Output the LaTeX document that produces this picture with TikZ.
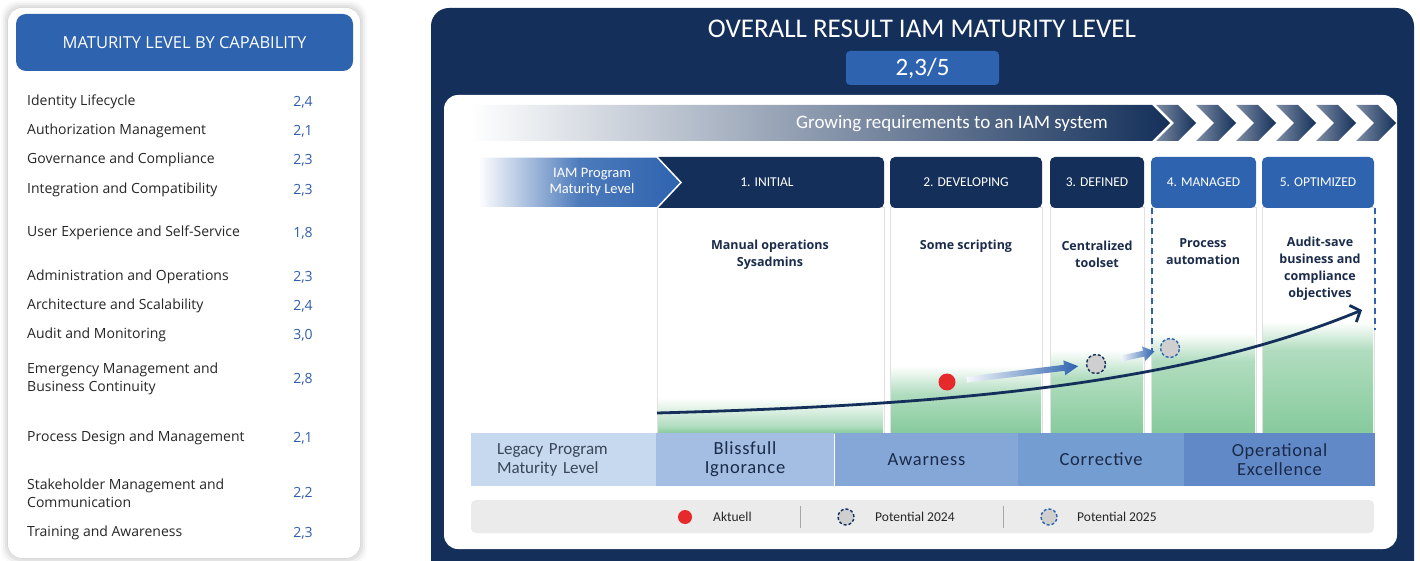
\documentclass[tikz,border=0pt]{standalone}
\usepackage{fontspec}
\setmainfont{Open Sans}
\newfontfamily\condfont{Carlito}
\newfontfamily\bandfont[LetterSpace=4]{Carlito}
\usetikzlibrary{calc, positioning, arrows.meta}

\definecolor{navy}{HTML}{14305A}
\definecolor{capblue}{HTML}{2E63AF}
\definecolor{valblue}{HTML}{2F5EAF}
\definecolor{txtgray}{HTML}{262626}
\definecolor{headtxt}{HTML}{1B2B4B}
\definecolor{greenlvl}{HTML}{86CA9C}
\definecolor{legacy}{HTML}{C6D9EF}
\definecolor{bliss}{HTML}{A3BDE3}
\definecolor{awar}{HTML}{85A7D8}
\definecolor{corr}{HTML}{749DD2}
\definecolor{oper}{HTML}{6189C8}
\definecolor{bandtxt}{HTML}{1A2A48}
\definecolor{legacytxt}{HTML}{3A4658}
\definecolor{legendbg}{HTML}{EBEBEB}
\definecolor{dotred}{HTML}{E62A2C}
\definecolor{circgray}{HTML}{CFCFCF}

\begin{document}
\begin{tikzpicture}[x=1pt, y=-1pt,
    caplabel/.style={anchor=west, align=left, text=txtgray, inner sep=0, font=\fontsize{14}{18}\selectfont},
    capvalue/.style={text=valblue, inner sep=0, font=\fontsize{14}{18}\selectfont},
    lvlhead/.style={fill=navy, text=white, minimum height=51, rounded corners=5, inner sep=0, font=\condfont\fontsize{13.5}{16}\selectfont},
    lvltext/.style={text=headtxt, align=center, inner sep=0, font=\bfseries\fontsize{12.5}{17}\selectfont},
    lvlbody/.style={draw=black!12, fill=white, line width=1},
    lvldash/.style={capblue, line width=1.8, dash pattern=on 6pt off 4pt},
    band/.style={minimum height=53, inner sep=0, text=bandtxt, align=center, font=\bandfont\fontsize{18.5}{19}\selectfont},
    potential/.style={circle, fill=circgray, dash pattern=on 3pt off 2pt, line width=1.4, minimum size=19, inner sep=0},
    legtext/.style={anchor=west, text=txtgray, inner sep=0, font=\condfont\fontsize{13.5}{16}\selectfont}]
    \useasboundingbox (0,0) rectangle (1420,561);

    % capability panel
    \foreach \s/\o in {7/0.025, 5/0.04, 3/0.05, 1/0.06}
        \fill[black, opacity=\o, rounded corners=16] (8-\s,8-\s) rectangle (360+\s,558+\s);
    \fill[white, rounded corners=14] (8,8) rectangle (360,558);
    \node[fill=capblue, text=white, rounded corners=10, minimum width=337, minimum height=57, inner sep=0,
        font=\fontsize{16.5}{20}\selectfont] (caphead) at (184.5,42.5) {MATURITY LEVEL BY CAPABILITY};

    \foreach \y/\lab/\val [count=\i] in {
        102/{Identity Lifecycle}/{2,4},
        131/{Authorization Management}/{2,1},
        160/{Governance and Compliance}/{2,3},
        190/{Integration and Compatibility}/{2,3},
        233/{User Experience and Self-Service}/{1,8},
        277/{Administration and Operations}/{2,3},
        306/{Architecture and Scalability}/{2,4},
        335/{Audit and Monitoring}/{3,0},
        379/{Emergency Management and\\Business Continuity}/{2,8},
        438/{Process Design and Management}/{2,1},
        493/{Stakeholder Management and\\Communication}/{2,2},
        533/{Training and Awareness}/{2,3}}{
        \node[caplabel] (cap\i) at (27,\y) {\lab};
        \node[capvalue] (val\i) at (303,\y) {\val};
    }

    % overall panel
    \fill[navy, rounded corners=18] (431,8) rectangle (1414,600);
    \node[text=white, inner sep=0, font=\condfont\fontsize{27}{30}\selectfont] (title) at (922,29) {OVERALL RESULT IAM MATURITY LEVEL};
    \node[fill=capblue, text=white, rounded corners=4, minimum width=153, minimum height=34, inner sep=0,
        font=\condfont\fontsize{25}{28}\selectfont] (score) at (922.5,68) {2,3/5};
    \fill[white, rounded corners=14] (444,95) rectangle (1397,549);

    \shade[left color=white, right color=navy] (470,105) -- (1152,105) -- (1170,123) -- (1152,141) -- (470,141) -- cycle;
    \foreach \i in {0,...,5}{
        \pgfmathsetmacro\cx{1156+40*\i}
        \shade[left color=navy!55!white, right color=navy]
            (\cx,105) -- (\cx+22,105) -- (\cx+40,123) -- (\cx+22,141) -- (\cx,141) -- (\cx+18,123) -- cycle;
    }
    \node[text=white, inner sep=0, font=\condfont\fontsize{19}{22}\selectfont] (growing) at (952,124) {Growing requirements to an IAM system};

    % level columns
    \foreach \xa/\xb/\g in {657/884/398, 890/1042/366, 1050/1144/350, 1151/1256/333, 1262/1374/322}{
        \draw[lvlbody] (\xa,208) rectangle (\xb,433);
        \shade[top color=white, bottom color=greenlvl!65] (\xa+1,\g) rectangle (\xb-1,\g+28);
        \shade[top color=greenlvl!65, bottom color=greenlvl] (\xa+1,\g+28) rectangle (\xb-1,433);
    }
    \draw[lvldash] (1152,208) -- (1152,352);
    \draw[lvldash] (1375,208) -- (1375,330);

    \node[lvlhead, minimum width=234] (initial) at (767,182.5) {1. INITIAL};
    \node[lvlhead, minimum width=152] (developing) at (966,182.5) {2. DEVELOPING};
    \node[lvlhead, minimum width=94] (defined) at (1097,182.5) {3. DEFINED};
    \node[lvlhead, minimum width=105, fill=capblue] (managed) at (1203.5,182.5) {4. MANAGED};
    \node[lvlhead, minimum width=112, fill=capblue] (optimized) at (1318,182.5) {5. OPTIMIZED};
    \shadedraw[left color=white, right color=capblue, middle color=capblue!85, draw=white, line width=1.5]
        (478,157) -- (657,157) -- (681,182.5) -- (657,208) -- (478,208) -- cycle;
    \node[text=white, align=center, inner sep=0, font=\condfont\fontsize{14.5}{16}\selectfont] (iamlevel) at (592,182) {IAM Program\\Maturity Level};

    \node[lvltext] (initialtxt) at (770,254.5) {Manual operations\\Sysadmins};
    \node[lvltext] (developingtxt) at (966,246) {Some scripting};
    \node[lvltext] (definedtxt) at (1097,254.5) {Centralized\\toolset};
    \node[lvltext] (managedtxt) at (1203,251.5) {Process\\automation};
    \node[lvltext] (optimizedtxt) at (1320,269) {Audit-save\\business and\\compliance\\objectives};

    % growth curve and positions
    \coordinate (curvestart) at (657,413);
    \coordinate (curveend) at (1362,310);
    \draw[navy, line width=2.8, -{Straight Barb[length=8pt, width=18pt]}]
        (curvestart) .. controls (950,405) and (1180,385) .. (curveend);

    \node[circle, fill=dotred, minimum size=17, inner sep=0] (aktuell) at (947,382) {};
    \node[potential, draw=navy] (p24) at (1096,364) {};
    \node[potential, draw=capblue] (p25) at (1170,348) {};

    \foreach \from/\to/\gs/\ge/\hl in {aktuell/p24/20/18/14, p24/p25/26/16/11}{
        \coordinate (s) at ($(\from)!\gs pt!(\to)$);
        \coordinate (e) at ($(\to)!\ge pt!(\from)$);
        \coordinate (h) at ($(e)!\hl pt!(s)$);
        \shade[left color=capblue!5, right color=capblue]
            ($(s)!3pt!90:(e)$) -- ($(h)!3pt!-90:(s)$) -- ($(h)!7.5pt!-90:(s)$) -- (e)
            -- ($(h)!7.5pt!90:(s)$) -- ($(h)!3pt!90:(s)$) -- ($(s)!3pt!-90:(e)$) -- cycle;
    }

    % legacy levels
    \node[band, fill=legacy, minimum width=186, text width=134, inner xsep=26, align=left, text=legacytxt,
        font=\condfont\fontsize{17}{19}\selectfont] (legacy) at (564,459.5) {Legacy Program\\Maturity Level};
    \node[band, fill=bliss, minimum width=178] (blissfull) at (745,459.5) {Blissfull\\Ignorance};
    \node[band, fill=awar, minimum width=183] (awarness) at (926.5,459.5) {Awarness};
    \node[band, fill=corr, minimum width=166] (corrective) at (1101,459.5) {Corrective};
    \node[band, fill=oper, minimum width=191] (operational) at (1279.5,459.5) {Operational\\Excellence};

    % legend
    \node[fill=legendbg, rounded corners=5, minimum width=903, minimum height=33, inner sep=0] (legend) at (922.5,516.5) {};
    \node[circle, fill=dotred, minimum size=14, inner sep=0] (legdot) at (685,517) {};
    \node[legtext] (legakt) at (713,517) {Aktuell};
    \draw[black!35, line width=1] (800,506) -- (800,528);
    \node[potential, draw=navy, minimum size=16] (leg24) at (846,517) {};
    \node[legtext] (legp24) at (875,517) {Potential 2024};
    \draw[black!35, line width=1] (1003,506) -- (1003,528);
    \node[potential, draw=capblue, minimum size=16] (leg25) at (1049,517) {};
    \node[legtext] (legp25) at (1077,517) {Potential 2025};
\end{tikzpicture}
\end{document}
